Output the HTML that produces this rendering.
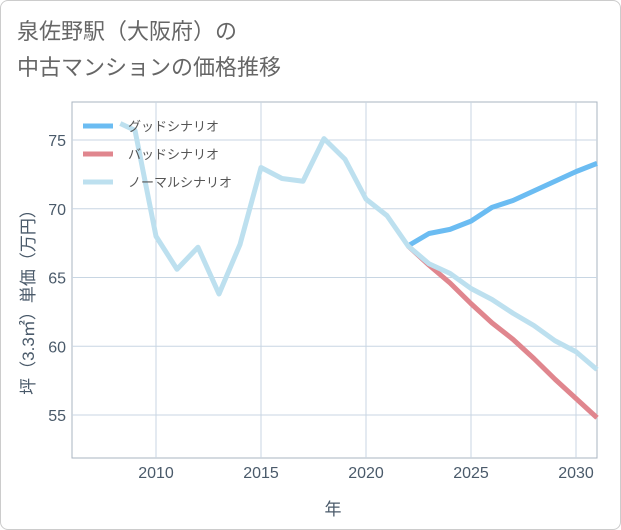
<!DOCTYPE html>
<html><head><meta charset="utf-8"><style>
html,body{margin:0;padding:0;background:#fff;}
body{width:621px;height:530px;overflow:hidden;font-family:"Liberation Sans","Noto Sans CJK JP",sans-serif;}
.card{position:absolute;left:0;top:0;width:619px;height:528px;border:1px solid #ccc;border-radius:8px;}
.title{position:absolute;left:17px;top:14px;font-size:22px;line-height:36px;color:#666;}
</style></head><body>
<div class="card"></div>
<div class="title">泉佐野駅（大阪府）の<br>中古マンションの価格推移</div>
<svg id="chart" width="621" height="530" style="position:absolute;left:0;top:0"></svg>
<script>
const goodYears=[2022,2023,2024,2025,2026,2027,2028,2029,2030,2031];
const goodValues=[67.3,68.2,68.5,69.1,70.1,70.6,71.3,72.0,72.7,73.3];
const badYears=[2022,2023,2024,2025,2026,2027,2028,2029,2030,2031];
const badValues=[67.3,65.9,64.6,63.1,61.7,60.5,59.1,57.6,56.2,54.8];
const normalYears=[2008.3,2009,2010,2011,2012,2013,2014,2015,2016,2017,2018,2019,2020,2021,2022,2023,2024,2025,2026,2027,2028,2029,2030,2031];
const normalValues=[76.2,75.7,68.0,65.6,67.2,63.8,67.4,73.0,72.2,72.0,75.1,73.6,70.7,69.5,67.3,66.0,65.3,64.2,63.4,62.4,61.5,60.4,59.6,58.3];
const xTicks=[2010,2015,2020,2025,2030];
const yTicks=[55,60,65,70,75];
const seriesNames=["グッドシナリオ","バッドシナリオ","ノーマルシナリオ"];
const L=72,R=597,T=102,B=458;
const xs=v=>L+(v-2006)*(R-L)/25;
const ys=v=>140+(75-v)*(415-140)/20;
const svg=document.getElementById('chart');
const NS='http://www.w3.org/2000/svg';
function mk(tag,attrs){const e=document.createElementNS(NS,tag);for(const k in attrs)e.setAttribute(k,attrs[k]);svg.appendChild(e);return e;}
const bg=mk('rect',{x:L,y:T,width:R-L,height:B-T,fill:'#fff',stroke:'#aab4c0','stroke-width':1});


xTicks.forEach(t=>{
 const g=mk('line',{x1:xs(t),x2:xs(t),y1:T,y2:B,stroke:'#c8d6e3','stroke-width':1});
 
 
 const tx=mk('text',{x:xs(t),y:478,'text-anchor':'middle','font-size':16,fill:'#4a5a6a'});
 tx.textContent=t;
 
 
});
yTicks.forEach(t=>{
 const g=mk('line',{x1:L,x2:R,y1:ys(t),y2:ys(t),stroke:'#c8d6e3','stroke-width':1});
 
 
 const tx=mk('text',{x:66,y:ys(t)+6,'text-anchor':'end','font-size':16,fill:'#4a5a6a'});
 tx.textContent=t;
 
 
});
const colors=['#6bbcf2','#e0868e','#bde0ef'];
function line(xv,yv,c,name){
 const p=mk('polyline',{points:xv.map((x,i)=>xs(x)+','+ys(yv[i])).join(' '),fill:'none',stroke:c,'stroke-width':5,'stroke-linejoin':'round'});
 
 
}
line(goodYears,goodValues,colors[0],'good-scenario-line');
line(badYears,badValues,colors[1],'bad-scenario-line');
line(normalYears,normalValues,colors[2],'normal-scenario-line');
seriesNames.forEach((n,i)=>{
 const y=126+i*28;
 const l=mk('line',{x1:83,x2:113,y1:y,y2:y,stroke:colors[i],'stroke-width':5});
 
 
 const t=mk('text',{x:128,y:y+5,'font-size':13,fill:'#555'});
 t.textContent=n;
 
 
});
const xt=mk('text',{x:333,y:515,'text-anchor':'middle','font-size':17,fill:'#4a5a6a'});
xt.textContent='年';


const yt=mk('text',{x:0,y:0,'text-anchor':'middle','font-size':17,fill:'#4a5a6a',transform:'translate(34,298) rotate(-90)'});
yt.textContent='坪（3.3㎡）単価（万円）';


</script>
</body></html>
